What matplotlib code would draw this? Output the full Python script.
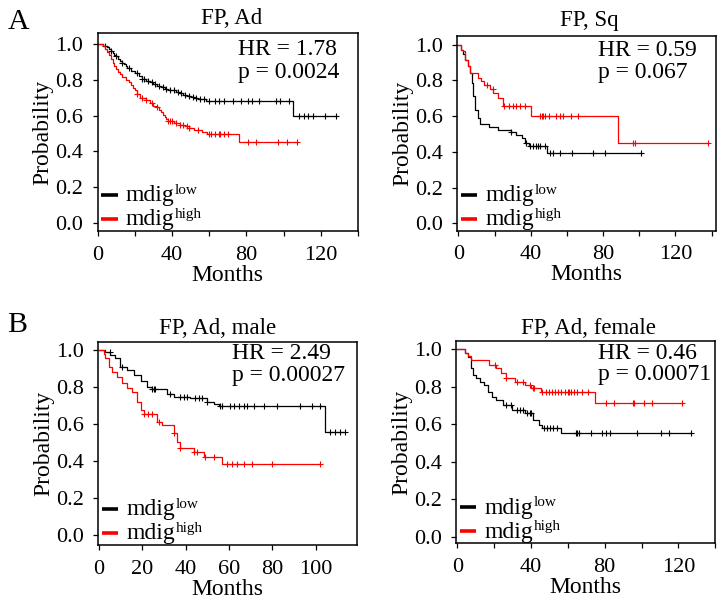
import numpy as np
import matplotlib
matplotlib.use("Agg")
import matplotlib.pyplot as plt

plt.rcParams['font.family'] = 'Liberation Serif'

# --- FP, Ad ---
a_low_t = [0, 3, 5, 6, 7, 8, 9, 10, 11, 12, 13, 14, 15, 16, 18, 20, 22, 24, 26, 28, 30,
           32, 34, 36, 38, 40, 42, 44, 46, 48, 50, 52, 54, 56, 58, 105]
a_low_s = [1.0, 0.99, 0.98, 0.97, 0.96, 0.95, 0.94, 0.93, 0.915, 0.905, 0.895, 0.885, 0.875,
           0.865, 0.85, 0.835, 0.82, 0.805, 0.79, 0.785, 0.775, 0.765, 0.76, 0.75, 0.745,
           0.74, 0.73, 0.725, 0.715, 0.71, 0.705, 0.70, 0.695, 0.69, 0.68, 0.60]
a_low_c = [4, 7, 10, 13, 17, 21, 24, 25, 27, 29, 31, 33, 35, 37, 39, 41, 43, 45, 47, 49, 51,
           53, 55, 57, 60, 63, 65, 68, 73, 77, 81, 83, 87, 96, 98, 103, 108, 111, 113, 116,
           122, 128]
a_high_t = [0, 3, 4, 5, 6, 7, 8, 9, 10, 11, 12, 13, 15, 17, 18, 19, 20, 21, 23, 26, 28, 30,
            32, 33, 34, 35, 36, 37, 38, 41, 44, 47, 49, 52, 56, 59, 76]
a_high_s = [1.0, 0.985, 0.97, 0.955, 0.935, 0.915, 0.895, 0.875, 0.86, 0.845, 0.83, 0.815,
            0.80, 0.785, 0.77, 0.755, 0.74, 0.72, 0.70, 0.685, 0.67, 0.655, 0.645, 0.63,
            0.62, 0.605, 0.59, 0.58, 0.57, 0.56, 0.55, 0.54, 0.53, 0.52, 0.51, 0.50, 0.455]
a_high_c = [21, 24, 26, 29, 32, 38, 39, 40, 42, 44, 46, 48, 49, 54, 60, 61, 63, 65, 66, 68,
            70, 81, 85, 97, 102, 107]

# --- FP, Sq ---
sq_low_t = [0, 1.5, 2.4, 3.9, 5.2, 6.5, 7.6, 8.3, 9.4, 10.7, 12, 17, 22, 29, 32, 35, 37, 39, 49]
sq_low_s = [1.0, 0.97, 0.95, 0.915, 0.88, 0.84, 0.785, 0.71, 0.635, 0.59, 0.555, 0.54, 0.525,
            0.51, 0.495, 0.475, 0.45, 0.43, 0.395]
sq_low_c = [29, 37.6, 39.4, 41, 42.8, 44, 45.4, 47.8, 50.6, 52.4, 56, 62.6, 74.6, 81, 101]
sq_high_t = [0, 1.5, 2.4, 3.9, 5.2, 6.5, 10.7, 12.6, 14.4, 17.2, 19.1, 21.9, 24.6, 40.4, 88.5]
sq_high_s = [1.0, 0.97, 0.962, 0.916, 0.878, 0.841, 0.813, 0.795, 0.776, 0.75, 0.73, 0.702,
             0.655, 0.598, 0.448]
sq_high_c = [16, 19, 25, 28, 30, 32, 34, 37, 45, 46, 47, 48, 50, 54, 56, 58, 62, 66, 96.5,
             97.5, 138]

# --- FP, Ad, male ---
m_low_t = [0, 3, 5.3, 7.6, 9.9, 13, 16.1, 19.2, 22.2, 24.5, 31.5, 34.5, 42, 49.9, 53, 55.3, 104.5]
m_low_s = [1.0, 0.99, 0.975, 0.955, 0.91, 0.89, 0.865, 0.83, 0.80, 0.79, 0.76, 0.748, 0.738,
           0.72, 0.71, 0.70, 0.558]
m_low_c = [5, 10.7, 24.5, 25.3, 26.1, 33, 37.6, 39.1, 40.7, 44.5, 46.1, 47.6, 50, 56.1, 56.8,
           60.7, 62.2, 64.5, 66.8, 68.4, 71.4, 76.1, 82.2, 93, 98.4, 102.2, 106.8, 109.2,
           111.5, 113.8]
m_high_t = [0, 2.2, 3, 4.5, 6.1, 8.4, 10.7, 13, 15.3, 17.6, 19.2, 20.7, 26.8, 29.1, 34.5,
            36.1, 37.6, 43.8, 48.4, 56.8]
m_high_s = [1.0, 0.98, 0.955, 0.91, 0.883, 0.856, 0.82, 0.793, 0.775, 0.72, 0.676, 0.652,
            0.613, 0.595, 0.55, 0.505, 0.468, 0.45, 0.423, 0.382]
m_high_c = [20.7, 22.6, 24.5, 27.6, 34.5, 37.6, 43.8, 45.3, 49.1, 53, 59.2, 61.5, 63.8, 66.8,
            70.7, 79.9, 102.2]

# --- FP, Ad, female ---
f_low_t = [0, 4.1, 5.8, 7.5, 8.4, 10.1, 12.6, 14.4, 16.9, 18.7, 21.2, 24.7, 29.8, 36.7, 41,
           44.4, 46.1, 56.5]
f_low_s = [1.0, 0.98, 0.961, 0.898, 0.863, 0.845, 0.827, 0.809, 0.774, 0.747, 0.729, 0.703,
           0.676, 0.658, 0.622, 0.596, 0.578, 0.552]
f_low_c = [26.4, 29, 32.4, 34.1, 35.8, 37.6, 39.3, 40.1, 47, 48.7, 50.4, 52.2, 53.9, 64.2,
           65.1, 65.9, 72.8, 78.8, 80.5, 83.1, 97.7, 110.6, 114.9, 126.9]
f_high_t = [0, 4.1, 5.8, 7.5, 17.0, 21.2, 23.8, 26.4, 31.5, 36.7, 40.1, 45.3, 74.8]
f_high_s = [1.0, 0.98, 0.965, 0.943, 0.916, 0.898, 0.871, 0.845, 0.827, 0.809, 0.792, 0.774,
            0.715]
f_high_c = [20.4, 26.4, 32.4, 35.8, 39.3, 41, 41.9, 46.1, 47.9, 49.6, 51.3, 53, 54.7, 56.5,
            58.2, 59.9, 60.7, 61.6, 63.3, 65, 67.6, 71, 80.5, 84.8, 95.1, 95.9, 101.1, 105.4,
            121.7]

titles = ["FP, Ad", "FP, Sq", "FP, Ad, male", "FP, Ad, female"]
hr_text = ["HR = 1.78", "HR = 0.59", "HR = 2.49", "HR = 0.46"]
p_text = ["p = 0.0024", "p = 0.067", "p = 0.00027", "p = 0.00071"]
group_sup = ["low", "high"]
group_colors = ["black", "red"]


def km_curve(ax, t, s, cens, color):
    t = list(t)
    s = list(s)
    end = max(max(cens), t[-1])
    ax.step(t + [end], s + [s[-1]], where="post", color=color, lw=0.9)
    idx = np.searchsorted(t, cens, side="right") - 1
    cy = np.array(s)[idx]
    ax.plot(cens, cy, ls="none", marker="+", color=color, ms=5, mew=0.8)


fig = plt.figure(figsize=(7.26, 6.03), dpi=100)

# axes boxes in pixels: left, top, right, bottom
boxes = [(97.7, 33, 358, 231), (457.5, 36, 715.7, 230.7),
         (98.3, 341.7, 357.3, 545), (456.3, 341, 715.3, 543.3)]
xlims = [(0, 132.2), (-0.5, 142.3), (-0.3, 119.3), (-0.5, 132.3)]
ylims = [(-0.043, 1.06), (-0.041, 1.048), (-0.054, 1.045), (-0.035, 1.044)]
title_x = [0.514, 0.509, 0.462, 0.512]
title_pad = [6.5, 7.5, 5.3, 4.8]
txt_pos = [(0.540, 0.915, 0.80), (0.545, 0.925, 0.81), (0.515, 0.943, 0.836), (0.548, 0.936, 0.832)]
curves = [
    (a_low_t, a_low_s, a_low_c, a_high_t, a_high_s, a_high_c),
    (sq_low_t, sq_low_s, sq_low_c, sq_high_t, sq_high_s, sq_high_c),
    (m_low_t, m_low_s, m_low_c, m_high_t, m_high_s, m_high_c),
    (f_low_t, f_low_s, f_low_c, f_high_t, f_high_s, f_high_c),
]

W, H = 726.0, 603.0
for i in range(4):
    l, t, r, b = boxes[i]
    aw, ah = r - l, b - t
    ax = fig.add_axes([l / W, 1 - b / H, aw / W, ah / H])
    lt, ls, lc, ht, hs, hc = curves[i]
    km_curve(ax, lt, ls, lc, "black")
    km_curve(ax, ht, hs, hc, "red")

    ax.set_xlim(*xlims[i])
    ax.set_ylim(*ylims[i])
    if i == 2:
        ax.set_xticks([0, 20, 40, 60, 80, 100])
    else:
        ax.set_xticks([0, 40, 80, 120])
        ax.set_xticks([20, 60, 100, 140], minor=True)
    ax.set_yticks([0, 0.2, 0.4, 0.6, 0.8, 1.0])
    ax.set_yticklabels(["0.0", "0.2", "0.4", "0.6", "0.8", "1.0"])
    ax.tick_params(which="both", direction="out", length=3.5, width=0.9,
                   labelsize=16, pad=7)
    for sp in ax.spines.values():
        sp.set_linewidth(1.1)

    ax.set_xlabel("Months", fontsize=17, labelpad=0)
    ax.set_ylabel("Probability", fontsize=17, labelpad=1)
    ax.set_title(titles[i], fontsize=16.5, x=title_x[i], pad=title_pad[i])

    tx, ty1, ty2 = txt_pos[i]
    ax.text(tx, ty1, hr_text[i], transform=ax.transAxes, fontsize=17, va="center", ha="left")
    ax.text(tx, ty2, p_text[i], transform=ax.transAxes, fontsize=17, va="center", ha="left")

    # legend drawn by hand (pixel offsets from the lower-left corner of the box)
    for k, (sup, col) in enumerate(zip(group_sup, group_colors)):
        yline = (36 - 24 * k) / ah
        ax.plot([3.5 / aw, 20 / aw], [yline, yline], color=col, lw=2.6,
                transform=ax.transAxes, solid_capstyle="butt")
        main = ax.text(28 / aw, (29.5 - 24 * k) / ah, "mdig", transform=ax.transAxes,
                       fontsize=17, va="baseline", ha="left")
        ax.annotate(sup, xy=(1, 0), xycoords=main, xytext=(0.5, 9.0),
                    textcoords="offset points", fontsize=11, va="baseline", ha="left")

fig.text(19 / W, 1 - 21.7 / H, "A", fontsize=21.5, ha="center", va="center")
fig.text(17 / W, 1 - 325 / H, "B", fontsize=21.5, ha="center", va="center")

fig.savefig("out.png", dpi=100)
